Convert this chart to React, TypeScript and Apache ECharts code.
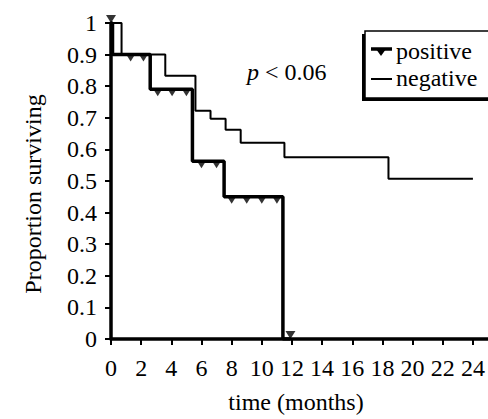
import React, { useEffect, useRef } from "react";
import * as echarts from "echarts";

// Kaplan–Meier steps: value holds from time[i] until time[i+1]
const posTimes = [0, 0.1, 2.6, 5.4, 7.5, 11.4, 11.9];
const posSurv = [1, 0.9, 0.79, 0.5625, 0.45, 0, 0];
const negTimes = [0, 0.7, 3.6, 5.6, 6.6, 7.6, 8.6, 11.5, 18.4, 24];
const negSurv = [1, 0.9, 0.833, 0.722, 0.697, 0.662, 0.621, 0.575, 0.507, 0.507];
// censored marks on the positive curve
const censorTimes = [1.3, 2.15, 3.1, 4.05, 5.0, 6.0, 7.0, 8.0, 9.0, 10.0, 11.0];
const censorSurv = [0.9, 0.9, 0.79, 0.79, 0.79, 0.5625, 0.5625, 0.45, 0.45, 0.45, 0.45];
// end marks (drawn above the value)
const endMarkTimes = [0, 11.9];
const endMarkSurv = [1, 0];

const xTicks = [0, 2, 4, 6, 8, 10, 12, 14, 16, 18, 20, 22, 24];

const FONT = "'Liberation Serif', 'Times New Roman', 'DejaVu Serif', serif";

export default function App() {
  const ref = useRef<HTMLDivElement>(null);
  useEffect(() => {
    if (!ref.current) return;
    const chart = echarts.init(ref.current, null, { renderer: "svg" });
    const posData = posTimes.map((t, i) => [t, posSurv[i]]);
    const negData = negTimes.map((t, i) => [t, negSurv[i]]);
    const censData = censorTimes.map((t, i) => [t, censorSurv[i]]);
    const endData = endMarkTimes.map((t, i) => [t, endMarkSurv[i]]);
    chart.setOption({
      animation: false,
      textStyle: { fontFamily: FONT },
      grid: { left: 111, right: 0, top: 23, bottom: 74, containLabel: false },
      xAxis: {
        type: "value",
        min: 0,
        max: 25,
        interval: 2,
        name: "time (months)",
        nameLocation: "middle",
        nameGap: 51,
        nameTextStyle: { fontFamily: FONT, fontSize: 24, color: "#000", padding: [0, 7, 0, 0] },
        splitLine: { show: false },
        axisLine: { show: true, onZero: false, lineStyle: { color: "#000", width: 3.5 } },
        axisTick: { show: true, length: 6, lineStyle: { color: "#000", width: 2 }, customValues: xTicks },
        axisLabel: { fontFamily: FONT, fontSize: 24, color: "#000", margin: 17, customValues: xTicks },
      },
      yAxis: {
        type: "value",
        min: 0,
        max: 1,
        interval: 0.1,
        name: "Proportion surviving",
        nameLocation: "middle",
        nameGap: 66,
        nameTextStyle: { fontFamily: FONT, fontSize: 24, color: "#000", padding: [0, 26, 0, 0] },
        splitLine: { show: false },
        axisLine: { show: true, onZero: false, lineStyle: { color: "#000", width: 3.5 } },
        axisTick: { show: true, length: 6, lineStyle: { color: "#000", width: 2 } },
        axisLabel: { fontFamily: FONT, fontSize: 24, color: "#000", margin: 14 },
      },
      series: [
        {
          name: "negative",
          type: "line",
          step: "end",
          data: negData,
          symbol: "none",
          lineStyle: { color: "#000", width: 2 },
          z: 2,
        },
        {
          name: "positive",
          type: "line",
          step: "end",
          data: posData,
          symbol: "none",
          lineStyle: { color: "#000", width: 3.5 },
          z: 3,
        },
        {
          name: "positive-censored",
          type: "scatter",
          data: censData,
          symbol: "triangle",
          symbolRotate: 180,
          symbolSize: [10, 8],
          symbolOffset: [0, 3],
          itemStyle: { color: "#000" },
          clip: false,
          z: 4,
        },
        {
          name: "positive-end",
          type: "scatter",
          data: endData,
          symbol: "triangle",
          symbolRotate: 180,
          symbolSize: [10, 8],
          symbolOffset: [0, -4],
          itemStyle: { color: "#000" },
          clip: false,
          z: 4,
        },
      ],
      graphic: [
        {
          type: "text",
          x: 247,
          y: 72,
          style: {
            text: "{i|p} < 0.06",
            fontFamily: FONT,
            fontSize: 24,
            fill: "#000",
            verticalAlign: "middle",
            rich: { i: { fontStyle: "italic", fontFamily: FONT, fontSize: 24 } },
          },
        },
        // legend box with shadow
        { type: "rect", shape: { x: 362, y: 34, width: 140, height: 67 }, style: { fill: "#000" }, z: 10 },
        {
          type: "rect",
          shape: { x: 365, y: 31, width: 140, height: 67 },
          style: { fill: "#fff", stroke: "#000", lineWidth: 1.5 },
          z: 11,
        },
        { type: "line", shape: { x1: 371, y1: 49, x2: 392, y2: 49 }, style: { stroke: "#000", lineWidth: 3.5 }, z: 12 },
        {
          type: "polygon",
          shape: { points: [[376, 49], [386, 49], [381, 56]] },
          style: { fill: "#000" },
          z: 12,
        },
        {
          type: "text",
          x: 396,
          y: 51,
          style: { text: "positive", fontFamily: FONT, fontSize: 24, fill: "#000", verticalAlign: "middle" },
          z: 12,
        },
        { type: "line", shape: { x1: 371, y1: 79, x2: 392, y2: 79 }, style: { stroke: "#000", lineWidth: 2 }, z: 12 },
        {
          type: "text",
          x: 396,
          y: 78,
          style: { text: "negative", fontFamily: FONT, fontSize: 24, fill: "#000", verticalAlign: "middle" },
          z: 12,
        },
      ],
    });
    return () => chart.dispose();
  }, []);
  return <div ref={ref} style={{ width: 488, height: 419, position: "absolute", left: 0, top: 0 }} />;
}
